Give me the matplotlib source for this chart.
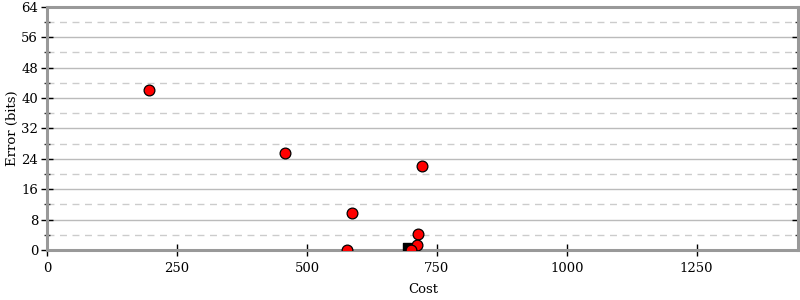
import numpy as np
import matplotlib.pyplot as plt
from matplotlib.ticker import MultipleLocator

plt.rcParams['font.family'] = ['DejaVu Serif']

# points
cost = [195, 457, 721, 586, 578, 713, 711, 701]
error = [42.0, 25.5, 22.1, 9.7, 0.0, 4.2, 1.3, 0.1]
best_cost = [692]
best_error = [0.8]

fig = plt.figure(figsize=(8, 3), dpi=100)
ax = fig.add_axes([0.059, 0.167, 0.939, 0.81])

ax.set_xlim(0, 1446)
ax.set_ylim(0, 64)
ax.xaxis.set_major_locator(MultipleLocator(250))
ax.yaxis.set_major_locator(MultipleLocator(8))
ax.yaxis.set_minor_locator(MultipleLocator(4))

ax.grid(True, which='major', axis='y', color='#bbbbbb', linewidth=1, linestyle='-')
ax.grid(True, which='minor', axis='y', color='#cccccc', linewidth=1, linestyle=(0, (5, 4)))
ax.set_axisbelow(True)

for side in ['left', 'right', 'top', 'bottom']:
    ax.spines[side].set_color('#999999')
    ax.spines[side].set_linewidth(2.2)

ax.tick_params(axis='both', which='major', direction='inout', length=9, width=1,
               color='black', labelsize=9.5, pad=2)
ax.tick_params(axis='y', which='minor', direction='inout', length=5, width=1, color='#333333')
ax.tick_params(axis='y', which='both', right=True)
ax.tick_params(axis='x', which='major', top=False, pad=4)

ax.scatter(best_cost, best_error, marker='s', s=40, color='black', zorder=3)
ax.scatter(cost, error, s=60, color='red', edgecolor='black', linewidth=0.9, zorder=4)

ax.set_xlabel('Cost', fontsize=9.5, labelpad=6)
ax.set_ylabel('Error (bits)', fontsize=9.5, labelpad=2)

plt.savefig('out.png', dpi=100)
